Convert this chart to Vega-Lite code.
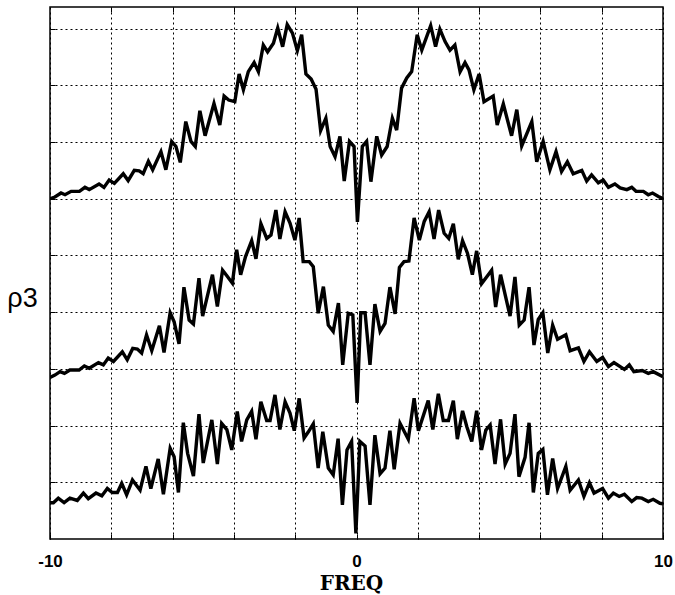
{
  "$schema": "https://vega.github.io/schema/vega-lite/v6.json",
  "width": 613,
  "height": 532,
  "autosize": {"type": "none"},
  "padding": {"left": 50, "top": 7, "right": 12, "bottom": 56},
  "background": "white",
  "config": {
    "view": {"stroke": "black", "strokeWidth": 1.5},
    "axis": {
      "gridColor": "black", "gridDash": [2, 3], "gridWidth": 1, "gridOpacity": 1,
      "domain": false, "tickColor": "black", "tickSize": -5, "tickWidth": 1
    }
  },
  "data": {"values": [
    {"c":"top","x":-10,"y":6.00},{"c":"top","x":-9.84,"y":6.03},{"c":"top","x":-9.64,"y":6.10},{"c":"top","x":-9.51,"y":6.07},{"c":"top","x":-9.31,"y":6.13},{"c":"top","x":-9.04,"y":6.13},{"c":"top","x":-8.86,"y":6.20},{"c":"top","x":-8.72,"y":6.16},{"c":"top","x":-8.40,"y":6.26},{"c":"top","x":-8.24,"y":6.20},{"c":"top","x":-8.07,"y":6.33},{"c":"top","x":-7.90,"y":6.27},{"c":"top","x":-7.61,"y":6.44},{"c":"top","x":-7.45,"y":6.32},{"c":"top","x":-7.25,"y":6.50},{"c":"top","x":-7.09,"y":6.49},{"c":"top","x":-6.96,"y":6.44},{"c":"top","x":-6.79,"y":6.66},{"c":"top","x":-6.65,"y":6.51},{"c":"top","x":-6.38,"y":6.83},{"c":"top","x":-6.22,"y":6.51},{"c":"top","x":-6.03,"y":7.01},{"c":"top","x":-5.89,"y":6.92},{"c":"top","x":-5.75,"y":6.64},{"c":"top","x":-5.57,"y":7.36},{"c":"top","x":-5.40,"y":7.01},{"c":"top","x":-5.26,"y":6.92},{"c":"top","x":-5.11,"y":7.55},{"c":"top","x":-4.94,"y":7.11},{"c":"top","x":-4.65,"y":7.68},{"c":"top","x":-4.46,"y":7.30},{"c":"top","x":-4.32,"y":7.81},{"c":"top","x":-4.17,"y":7.74},{"c":"top","x":-3.97,"y":7.71},{"c":"top","x":-3.83,"y":8.20},{"c":"top","x":-3.69,"y":7.92},{"c":"top","x":-3.53,"y":8.24},{"c":"top","x":-3.34,"y":8.40},{"c":"top","x":-3.20,"y":8.24},{"c":"top","x":-3.04,"y":8.71},{"c":"top","x":-2.90,"y":8.59},{"c":"top","x":-2.71,"y":8.74},{"c":"top","x":-2.57,"y":9.01},{"c":"top","x":-2.41,"y":8.68},{"c":"top","x":-2.26,"y":9.07},{"c":"top","x":-2.09,"y":8.92},{"c":"top","x":-1.93,"y":8.61},{"c":"top","x":-1.79,"y":8.89},{"c":"top","x":-1.65,"y":8.20},{"c":"top","x":-1.48,"y":8.11},{"c":"top","x":-1.32,"y":7.93},{"c":"top","x":-1.17,"y":7.20},{"c":"top","x":-1.00,"y":7.42},{"c":"top","x":-0.86,"y":6.92},{"c":"top","x":-0.70,"y":6.74},{"c":"top","x":-0.54,"y":7.10},{"c":"top","x":-0.40,"y":6.31},{"c":"top","x":-0.23,"y":7.01},{"c":"top","x":-0.08,"y":6.92},{"c":"top","x":0.03,"y":5.59},{"c":"top","x":0.19,"y":6.92},{"c":"top","x":0.33,"y":7.01},{"c":"top","x":0.47,"y":6.30},{"c":"top","x":0.66,"y":7.10},{"c":"top","x":0.82,"y":6.77},{"c":"top","x":1.00,"y":6.92},{"c":"top","x":1.17,"y":7.42},{"c":"top","x":1.31,"y":7.21},{"c":"top","x":1.47,"y":7.95},{"c":"top","x":1.64,"y":8.13},{"c":"top","x":1.80,"y":8.24},{"c":"top","x":1.98,"y":8.89},{"c":"top","x":2.13,"y":8.62},{"c":"top","x":2.42,"y":9.05},{"c":"top","x":2.58,"y":8.68},{"c":"top","x":2.72,"y":8.99},{"c":"top","x":2.89,"y":8.77},{"c":"top","x":3.05,"y":8.62},{"c":"top","x":3.21,"y":8.71},{"c":"top","x":3.38,"y":8.24},{"c":"top","x":3.54,"y":8.40},{"c":"top","x":3.67,"y":8.27},{"c":"top","x":3.83,"y":7.92},{"c":"top","x":4.00,"y":8.20},{"c":"top","x":4.16,"y":7.71},{"c":"top","x":4.46,"y":7.81},{"c":"top","x":4.59,"y":7.30},{"c":"top","x":4.79,"y":7.67},{"c":"top","x":5.06,"y":7.11},{"c":"top","x":5.23,"y":7.57},{"c":"top","x":5.39,"y":6.93},{"c":"top","x":5.72,"y":7.36},{"c":"top","x":5.88,"y":6.65},{"c":"top","x":6.09,"y":7.01},{"c":"top","x":6.31,"y":6.51},{"c":"top","x":6.51,"y":6.83},{"c":"top","x":6.69,"y":6.48},{"c":"top","x":6.88,"y":6.65},{"c":"top","x":7.07,"y":6.44},{"c":"top","x":7.35,"y":6.50},{"c":"top","x":7.51,"y":6.31},{"c":"top","x":7.67,"y":6.42},{"c":"top","x":7.89,"y":6.28},{"c":"top","x":8.05,"y":6.33},{"c":"top","x":8.22,"y":6.20},{"c":"top","x":8.43,"y":6.26},{"c":"top","x":8.60,"y":6.19},{"c":"top","x":8.82,"y":6.16},{"c":"top","x":8.98,"y":6.20},{"c":"top","x":9.12,"y":6.13},{"c":"top","x":9.36,"y":6.13},{"c":"top","x":9.52,"y":6.07},{"c":"top","x":9.66,"y":6.10},{"c":"top","x":9.85,"y":6.04},{"c":"top","x":10,"y":6.00},

    {"c":"mid","x":-10,"y":2.85},{"c":"mid","x":-9.84,"y":2.89},{"c":"mid","x":-9.67,"y":2.95},{"c":"mid","x":-9.53,"y":2.92},{"c":"mid","x":-9.35,"y":2.98},{"c":"mid","x":-9.05,"y":2.98},{"c":"mid","x":-8.88,"y":3.05},{"c":"mid","x":-8.72,"y":3.01},{"c":"mid","x":-8.42,"y":3.11},{"c":"mid","x":-8.26,"y":3.07},{"c":"mid","x":-8.10,"y":3.19},{"c":"mid","x":-7.93,"y":3.13},{"c":"mid","x":-7.64,"y":3.30},{"c":"mid","x":-7.48,"y":3.16},{"c":"mid","x":-7.30,"y":3.36},{"c":"mid","x":-7.15,"y":3.35},{"c":"mid","x":-7.01,"y":3.28},{"c":"mid","x":-6.85,"y":3.60},{"c":"mid","x":-6.68,"y":3.32},{"c":"mid","x":-6.43,"y":3.76},{"c":"mid","x":-6.28,"y":3.29},{"c":"mid","x":-6.08,"y":3.99},{"c":"mid","x":-5.95,"y":3.83},{"c":"mid","x":-5.79,"y":3.44},{"c":"mid","x":-5.63,"y":4.44},{"c":"mid","x":-5.46,"y":3.86},{"c":"mid","x":-5.32,"y":3.79},{"c":"mid","x":-5.14,"y":4.60},{"c":"mid","x":-5.02,"y":3.93},{"c":"mid","x":-4.70,"y":4.66},{"c":"mid","x":-4.54,"y":4.10},{"c":"mid","x":-4.37,"y":4.74},{"c":"mid","x":-4.23,"y":4.64},{"c":"mid","x":-4.05,"y":4.51},{"c":"mid","x":-3.91,"y":5.10},{"c":"mid","x":-3.78,"y":4.66},{"c":"mid","x":-3.62,"y":4.98},{"c":"mid","x":-3.42,"y":5.26},{"c":"mid","x":-3.28,"y":4.94},{"c":"mid","x":-3.12,"y":5.56},{"c":"mid","x":-2.93,"y":5.30},{"c":"mid","x":-2.79,"y":5.36},{"c":"mid","x":-2.63,"y":5.80},{"c":"mid","x":-2.50,"y":5.29},{"c":"mid","x":-2.33,"y":5.77},{"c":"mid","x":-2.17,"y":5.57},{"c":"mid","x":-2.01,"y":5.27},{"c":"mid","x":-1.87,"y":5.66},{"c":"mid","x":-1.74,"y":4.89},{"c":"mid","x":-1.54,"y":4.89},{"c":"mid","x":-1.41,"y":4.80},{"c":"mid","x":-1.25,"y":3.98},{"c":"mid","x":-1.08,"y":4.45},{"c":"mid","x":-0.92,"y":3.77},{"c":"mid","x":-0.76,"y":3.66},{"c":"mid","x":-0.59,"y":4.16},{"c":"mid","x":-0.45,"y":3.07},{"c":"mid","x":-0.27,"y":3.98},{"c":"mid","x":-0.12,"y":3.95},{"c":"mid","x":0.02,"y":2.40},{"c":"mid","x":0.14,"y":3.99},{"c":"mid","x":0.28,"y":3.99},{"c":"mid","x":0.44,"y":3.07},{"c":"mid","x":0.60,"y":4.14},{"c":"mid","x":0.77,"y":3.66},{"c":"mid","x":0.93,"y":3.80},{"c":"mid","x":1.09,"y":4.44},{"c":"mid","x":1.26,"y":3.97},{"c":"mid","x":1.40,"y":4.79},{"c":"mid","x":1.55,"y":4.89},{"c":"mid","x":1.71,"y":4.90},{"c":"mid","x":1.88,"y":5.66},{"c":"mid","x":2.05,"y":5.27},{"c":"mid","x":2.21,"y":5.60},{"c":"mid","x":2.37,"y":5.77},{"c":"mid","x":2.53,"y":5.29},{"c":"mid","x":2.68,"y":5.80},{"c":"mid","x":2.86,"y":5.39},{"c":"mid","x":3.01,"y":5.30},{"c":"mid","x":3.16,"y":5.56},{"c":"mid","x":3.32,"y":4.93},{"c":"mid","x":3.46,"y":5.26},{"c":"mid","x":3.62,"y":5.04},{"c":"mid","x":3.78,"y":4.66},{"c":"mid","x":3.92,"y":5.08},{"c":"mid","x":4.08,"y":4.50},{"c":"mid","x":4.41,"y":4.74},{"c":"mid","x":4.54,"y":4.09},{"c":"mid","x":4.70,"y":4.66},{"c":"mid","x":5.01,"y":3.93},{"c":"mid","x":5.17,"y":4.62},{"c":"mid","x":5.31,"y":3.77},{"c":"mid","x":5.47,"y":3.86},{"c":"mid","x":5.63,"y":4.44},{"c":"mid","x":5.79,"y":3.42},{"c":"mid","x":5.93,"y":3.87},{"c":"mid","x":6.08,"y":3.99},{"c":"mid","x":6.24,"y":3.28},{"c":"mid","x":6.40,"y":3.77},{"c":"mid","x":6.56,"y":3.52},{"c":"mid","x":6.83,"y":3.60},{"c":"mid","x":6.97,"y":3.32},{"c":"mid","x":7.24,"y":3.37},{"c":"mid","x":7.42,"y":3.13},{"c":"mid","x":7.60,"y":3.30},{"c":"mid","x":7.84,"y":3.13},{"c":"mid","x":8.03,"y":3.20},{"c":"mid","x":8.22,"y":3.04},{"c":"mid","x":8.40,"y":3.11},{"c":"mid","x":8.74,"y":2.99},{"c":"mid","x":8.90,"y":3.07},{"c":"mid","x":9.05,"y":2.95},{"c":"mid","x":9.32,"y":2.97},{"c":"mid","x":9.52,"y":2.92},{"c":"mid","x":9.68,"y":2.95},{"c":"mid","x":10,"y":2.86},

    {"c":"bot","x":-10,"y":0.64},{"c":"bot","x":-9.89,"y":0.64},{"c":"bot","x":-9.73,"y":0.72},{"c":"bot","x":-9.54,"y":0.64},{"c":"bot","x":-9.35,"y":0.72},{"c":"bot","x":-9.11,"y":0.68},{"c":"bot","x":-8.91,"y":0.81},{"c":"bot","x":-8.75,"y":0.71},{"c":"bot","x":-8.50,"y":0.81},{"c":"bot","x":-8.31,"y":0.76},{"c":"bot","x":-8.13,"y":0.89},{"c":"bot","x":-7.97,"y":0.82},{"c":"bot","x":-7.80,"y":0.82},{"c":"bot","x":-7.66,"y":0.98},{"c":"bot","x":-7.50,"y":0.78},{"c":"bot","x":-7.31,"y":1.04},{"c":"bot","x":-7.06,"y":0.86},{"c":"bot","x":-6.87,"y":1.28},{"c":"bot","x":-6.71,"y":0.89},{"c":"bot","x":-6.47,"y":1.41},{"c":"bot","x":-6.30,"y":0.79},{"c":"bot","x":-6.08,"y":1.60},{"c":"bot","x":-5.95,"y":1.45},{"c":"bot","x":-5.81,"y":0.82},{"c":"bot","x":-5.65,"y":2.05},{"c":"bot","x":-5.51,"y":1.51},{"c":"bot","x":-5.32,"y":1.11},{"c":"bot","x":-5.14,"y":2.20},{"c":"bot","x":-5.00,"y":1.34},{"c":"bot","x":-4.72,"y":2.10},{"c":"bot","x":-4.54,"y":1.32},{"c":"bot","x":-4.40,"y":2.04},{"c":"bot","x":-4.23,"y":1.93},{"c":"bot","x":-4.07,"y":1.57},{"c":"bot","x":-3.89,"y":2.25},{"c":"bot","x":-3.75,"y":1.72},{"c":"bot","x":-3.58,"y":2.10},{"c":"bot","x":-3.42,"y":2.25},{"c":"bot","x":-3.28,"y":1.76},{"c":"bot","x":-3.12,"y":2.42},{"c":"bot","x":-2.93,"y":2.09},{"c":"bot","x":-2.82,"y":2.09},{"c":"bot","x":-2.66,"y":2.54},{"c":"bot","x":-2.50,"y":1.93},{"c":"bot","x":-2.33,"y":2.42},{"c":"bot","x":-2.17,"y":2.22},{"c":"bot","x":-2.03,"y":1.91},{"c":"bot","x":-1.87,"y":2.48},{"c":"bot","x":-1.71,"y":1.78},{"c":"bot","x":-1.57,"y":1.89},{"c":"bot","x":-1.41,"y":2.03},{"c":"bot","x":-1.25,"y":1.25},{"c":"bot","x":-1.10,"y":1.89},{"c":"bot","x":-0.92,"y":1.25},{"c":"bot","x":-0.76,"y":1.13},{"c":"bot","x":-0.60,"y":1.77},{"c":"bot","x":-0.46,"y":0.60},{"c":"bot","x":-0.31,"y":1.57},{"c":"bot","x":-0.16,"y":1.72},{"c":"bot","x":-0.02,"y":0.10},{"c":"bot","x":0.11,"y":1.72},{"c":"bot","x":0.28,"y":1.64},{"c":"bot","x":0.44,"y":0.60},{"c":"bot","x":0.60,"y":1.83},{"c":"bot","x":0.77,"y":1.15},{"c":"bot","x":0.93,"y":1.25},{"c":"bot","x":1.09,"y":1.91},{"c":"bot","x":1.23,"y":1.23},{"c":"bot","x":1.42,"y":2.04},{"c":"bot","x":1.69,"y":1.76},{"c":"bot","x":1.88,"y":2.48},{"c":"bot","x":2.02,"y":1.91},{"c":"bot","x":2.34,"y":2.44},{"c":"bot","x":2.49,"y":1.93},{"c":"bot","x":2.67,"y":2.56},{"c":"bot","x":2.83,"y":2.09},{"c":"bot","x":3.00,"y":2.09},{"c":"bot","x":3.16,"y":2.44},{"c":"bot","x":3.29,"y":1.76},{"c":"bot","x":3.46,"y":2.26},{"c":"bot","x":3.60,"y":1.98},{"c":"bot","x":3.76,"y":1.72},{"c":"bot","x":3.92,"y":2.26},{"c":"bot","x":4.08,"y":1.57},{"c":"bot","x":4.22,"y":1.92},{"c":"bot","x":4.36,"y":2.01},{"c":"bot","x":4.52,"y":1.32},{"c":"bot","x":4.70,"y":2.11},{"c":"bot","x":4.85,"y":1.32},{"c":"bot","x":5.01,"y":1.51},{"c":"bot","x":5.17,"y":2.20},{"c":"bot","x":5.30,"y":1.10},{"c":"bot","x":5.50,"y":1.44},{"c":"bot","x":5.63,"y":2.05},{"c":"bot","x":5.77,"y":0.82},{"c":"bot","x":5.93,"y":1.51},{"c":"bot","x":6.08,"y":1.58},{"c":"bot","x":6.23,"y":0.78},{"c":"bot","x":6.40,"y":1.42},{"c":"bot","x":6.56,"y":0.89},{"c":"bot","x":6.83,"y":1.28},{"c":"bot","x":6.97,"y":0.86},{"c":"bot","x":7.24,"y":1.04},{"c":"bot","x":7.42,"y":0.75},{"c":"bot","x":7.60,"y":0.99},{"c":"bot","x":7.75,"y":0.81},{"c":"bot","x":8.03,"y":0.89},{"c":"bot","x":8.22,"y":0.72},{"c":"bot","x":8.38,"y":0.81},{"c":"bot","x":8.57,"y":0.75},{"c":"bot","x":8.74,"y":0.79},{"c":"bot","x":8.98,"y":0.66},{"c":"bot","x":9.14,"y":0.73},{"c":"bot","x":9.31,"y":0.72},{"c":"bot","x":9.52,"y":0.66},{"c":"bot","x":9.68,"y":0.70},{"c":"bot","x":9.90,"y":0.63},{"c":"bot","x":10,"y":0.62}
  ]},
  "layer": [
    {
      "mark": {"type": "line", "color": "black", "strokeWidth": 3.4, "clip": true},
      "encoding": {
        "x": {
          "field": "x", "type": "quantitative",
          "scale": {"domain": [-10, 10], "nice": false, "zero": false},
          "axis": {
            "grid": true,
            "values": [-10, -8, -6, -4, -2, 0, 2, 4, 6, 8, 10],
            "labelExpr": "datum.value == -10 ? '-10' : (datum.value == 0 ? '0' : (datum.value == 10 ? '10' : ''))",
            "labelFont": "Liberation Sans", "labelFontWeight": "bold", "labelFontSize": 17, "labelColor": "black",
            "labelPadding": 19, "labelFlush": false,
            "title": "FREQ", "titleFont": "DejaVu Serif", "titleFontWeight": "bold", "titleFontSize": 20, "titleColor": "black",
            "titleX": 301, "titleY": 50, "titleBaseline": "alphabetic", "titleAlign": "center"
          }
        },
        "y": {
          "field": "y", "type": "quantitative",
          "scale": {"domain": [0, 9.38], "nice": false, "zero": false},
          "axis": {
            "grid": true,
            "values": [1, 2, 3, 4, 5, 6, 7, 8, 9],
            "labels": false,
            "title": "ρ3", "titleFont": "Liberation Sans", "titleFontWeight": "normal", "titleFontSize": 27, "titleColor": "black",
            "titleAngle": 0, "titleX": -28, "titleY": 291, "titleAlign": "center", "titleBaseline": "middle"
          }
        },
        "detail": {"field": "c", "type": "nominal"}
      }
    },
    {
      "mark": {"type": "line", "strokeOpacity": 0, "clip": true},
      "encoding": {
        "x": {
          "field": "x", "type": "quantitative",
          "scale": {"domain": [-10, 10], "nice": false, "zero": false},
          "axis": {"orient": "top", "grid": false, "labels": false, "title": null, "values": [-8, -6, -4, -2, 0, 2, 4, 6, 8]}
        },
        "y": {
          "field": "y", "type": "quantitative",
          "scale": {"domain": [0, 9.38], "nice": false, "zero": false},
          "axis": {"orient": "right", "grid": false, "labels": false, "title": null, "values": [1, 2, 3, 4, 5, 6, 7, 8, 9]}
        },
        "detail": {"field": "c", "type": "nominal"}
      }
    }
  ],
  "resolve": {"axis": {"x": "independent", "y": "independent"}}
}
